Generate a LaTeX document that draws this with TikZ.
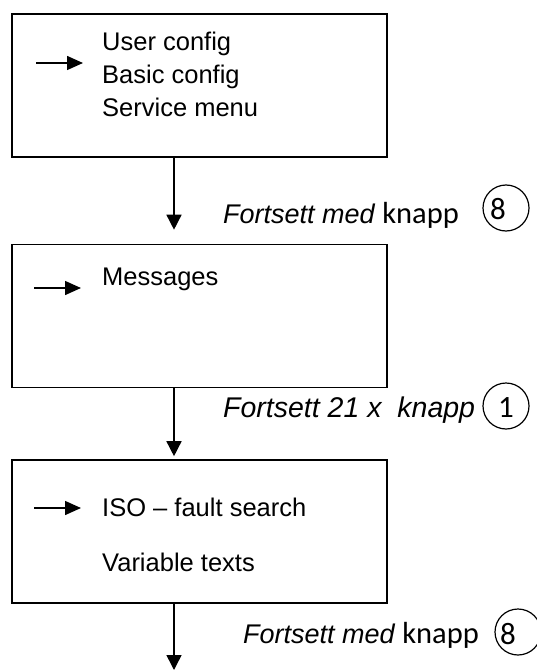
\documentclass[tikz,border=0pt]{standalone}
\usepackage{fontspec}
\setmainfont{Liberation Sans}
\newfontfamily\calfont{Carlito}
\usetikzlibrary{arrows.meta}
\begin{document}
\begin{tikzpicture}[x=1pt,y=-1pt,
  box/.style={draw, line width=1.6pt, minimum width=375pt, minimum height=143pt, inner sep=0pt},
  menu/.style={font=\fontsize{25.5}{30}\selectfont, anchor=base west, inner sep=0pt},
  lbl/.style={font=\fontsize{27}{32}\selectfont, anchor=base west, inner sep=0pt},
  knob/.style={draw, circle, line width=1.2pt, minimum size=46pt, inner sep=0pt},
  digit/.style={font=\calfont\fontsize{31}{34}\selectfont, inner sep=0pt},
  ptr/.style={line width=1.5pt, -{Triangle[length=16pt,width=14pt]}},
  flow/.style={line width=1.5pt, -{Triangle[length=15pt,width=15pt]}}]
\useasboundingbox (0,0) rectangle (537,671);
% boxes
\node[box] (b1) at (199.5,85.5) {};
\node[box] (b2) at (199.5,316) {};
\node[box] (b3) at (199.5,531.5) {};
% box 1 text
\node[menu] (t11) at (102,50.5) {User config};
\node[menu] (t12) at (102,83.5) {Basic config};
\node[menu] (t13) at (102,116.5) {Service menu};
\coordinate (p1a) at (36,63); \coordinate (p1b) at (83,63);
\draw[ptr] (p1a) -- (p1b);
% box 2 text
\node[menu] (t21) at (102,285.5) {Messages};
\coordinate (p2a) at (34,288); \coordinate (p2b) at (81,288);
\draw[ptr] (p2a) -- (p2b);
% box 3 text
\node[menu] (t31) at (102,516.5) {ISO -- fault search};
\node[menu] (t32) at (102,571.5) {Variable texts};
\coordinate (p3a) at (34,508); \coordinate (p3b) at (81,508);
\draw[ptr] (p3a) -- (p3b);
% flow arrows
\coordinate (ax) at (174,0);
\coordinate (end) at (174,670);
\draw[flow, shorten >=14pt] (b1.south -| ax) -- (b2.north -| ax);
\draw[flow, shorten >=3pt] (b2.south -| ax) -- (b3.north -| ax);
\draw[flow] (b3.south -| ax) -- (end);
% labels
\node[lbl] (l1) at (223,223) {\itshape Fortsett med \upshape{\calfont\fontsize{30.5}{34}\selectfont knapp}};
\node[knob] (k1) at (506,208) {};
\node[digit] (d1) at (498,209) {8};
\node[lbl, font=\fontsize{28.5}{33}\selectfont] (l2) at (223,417) {\itshape Fortsett 21 x\ \ knapp};
\node[knob] (k2) at (506,406) {};
\node[digit] (d2) at (506,408) {1};
\node[lbl] (l3) at (243,643) {\itshape Fortsett med \upshape{\calfont\fontsize{30.5}{34}\selectfont knapp}};
\node[knob] (k3) at (518,632) {};
\node[digit] (d3) at (508,634) {8};
\end{tikzpicture}
\end{document}
